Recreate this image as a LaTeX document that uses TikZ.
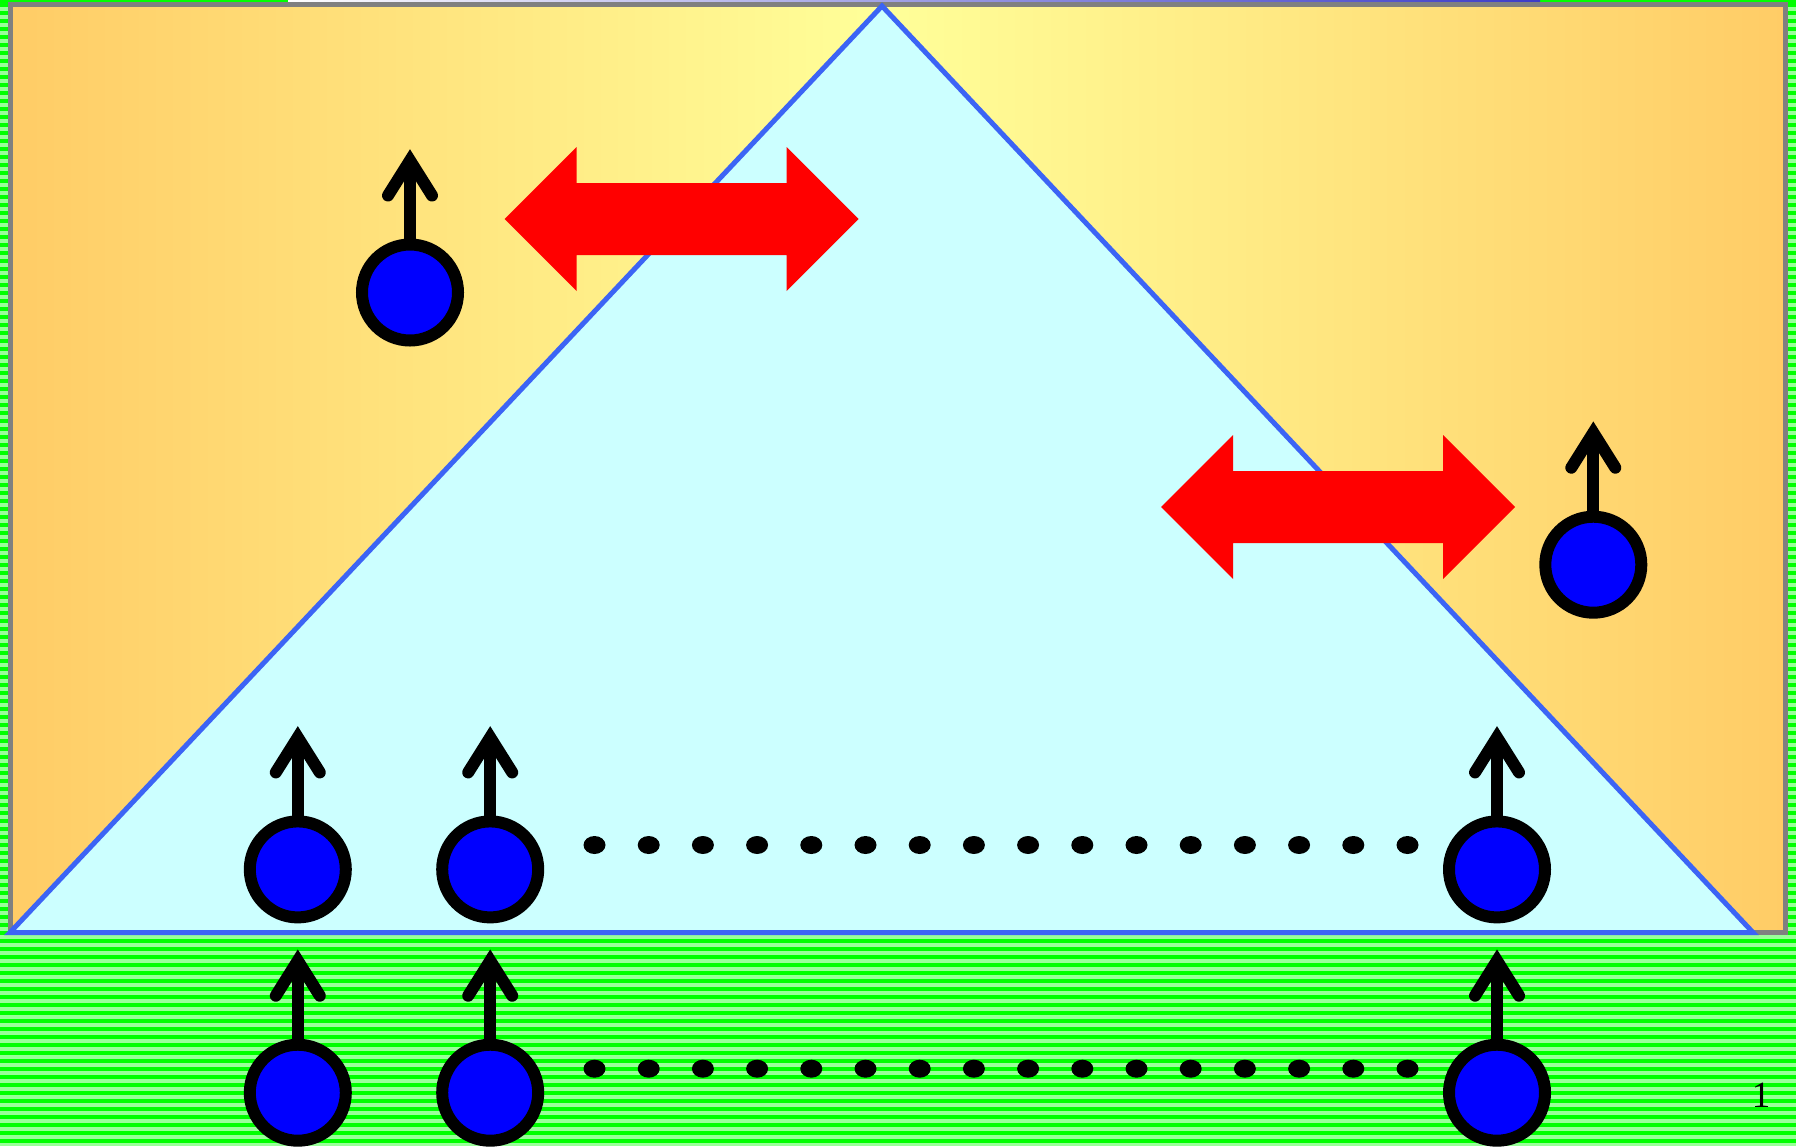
\documentclass[tikz,border=0pt]{standalone}
\usepackage{fontspec}
\setmainfont{Liberation Serif}
\definecolor{stripeA}{RGB}{0,255,0}
\definecolor{stripeB}{RGB}{153,255,153}
\definecolor{boxedge}{RGB}{255,204,102}
\definecolor{boxmid}{RGB}{255,255,153}
\definecolor{framegray}{RGB}{128,128,128}
\definecolor{wedgefill}{RGB}{204,255,255}
\definecolor{wedgeline}{RGB}{60,100,245}
\definecolor{barblue}{RGB}{60,60,200}
\definecolor{ballblue}{RGB}{0,0,255}
\begin{document}
\begin{tikzpicture}[x=1pt,y=-1pt,
  ball/.style={circle, fill=ballblue, draw=black, line width=12pt, minimum size=96pt, inner sep=0pt},
  spinshaft/.style={draw=black, line width=12pt},
  spinhead/.style={draw=black, line width=12pt, line cap=round, line join=miter},
  swaparrow/.pic={\fill[red] (-177,0) -- (-105,-72) -- (-105,-36) -- (105,-36) -- (105,-72)
      -- (177,0) -- (105,72) -- (105,36) -- (-105,36) -- (-105,72) -- cycle;},
  dot/.style={fill=black}]
\useasboundingbox (0,0) rectangle (1796,1146);
% striped green ground
\fill[stripeB] (0,0) rectangle (1796,1146);
\foreach \k in {0,...,143} \fill[stripeA] (0,8*\k+3) rectangle (1796,8*\k+7);
% thin bar along the top edge
\fill[stripeA] (0,0) rectangle (1796,2.5);
\shade[left color=white, right color=barblue] (288,0) rectangle (1540,2.5);
% orange panel with its frame
\shade[left color=boxedge, right color=boxmid] (10.5,4.5) rectangle (882.5,932.5);
\shade[left color=boxmid, right color=boxedge] (882,4.5) rectangle (1785.5,932.5);
\draw[framegray, line width=5pt] (10.5,4.5) rectangle (1785.5,932.5);
% light cyan triangle
\filldraw[fill=wedgefill, draw=wedgeline, line width=5pt]
  (882,6) -- (1753,932.5) -- (10,932.5) -- cycle;
% exchange arrows
\pic at (681.5,219) {swaparrow};
\pic at (1338,507) {swaparrow};
% rows of dots
\foreach \k in {0,...,15} {
  \fill[dot] (594.5+54.2*\k,845) ellipse [x radius=11, y radius=9];
  \fill[dot] (594.5+54.2*\k,1068.7) ellipse [x radius=11, y radius=9];
}
% spins
\foreach \n/\x/\y in {sa/410/292.5, sb/1593.3/564.7,
    ra/297.8/869.4, rb/490.2/869.4, rc/1497/869.4,
    ga/297.8/1092.7, gb/490.2/1092.7, gc/1497/1092.7} {
  \node[ball] (\n) at (\x,\y) {};
  \coordinate (\n t) at (\x,\y-132);
  \draw[spinshaft] ([yshift=-4pt]\n.north) -- (\n t);
  \draw[spinhead] (\n t) ++(-22,35) -- (\n t) -- ++(22,35);
}
% page number
\node[font=\fontsize{37}{37}\selectfont, anchor=base, inner sep=0pt] (pagenum) at (1761,1107) {1};
\end{tikzpicture}
\end{document}
